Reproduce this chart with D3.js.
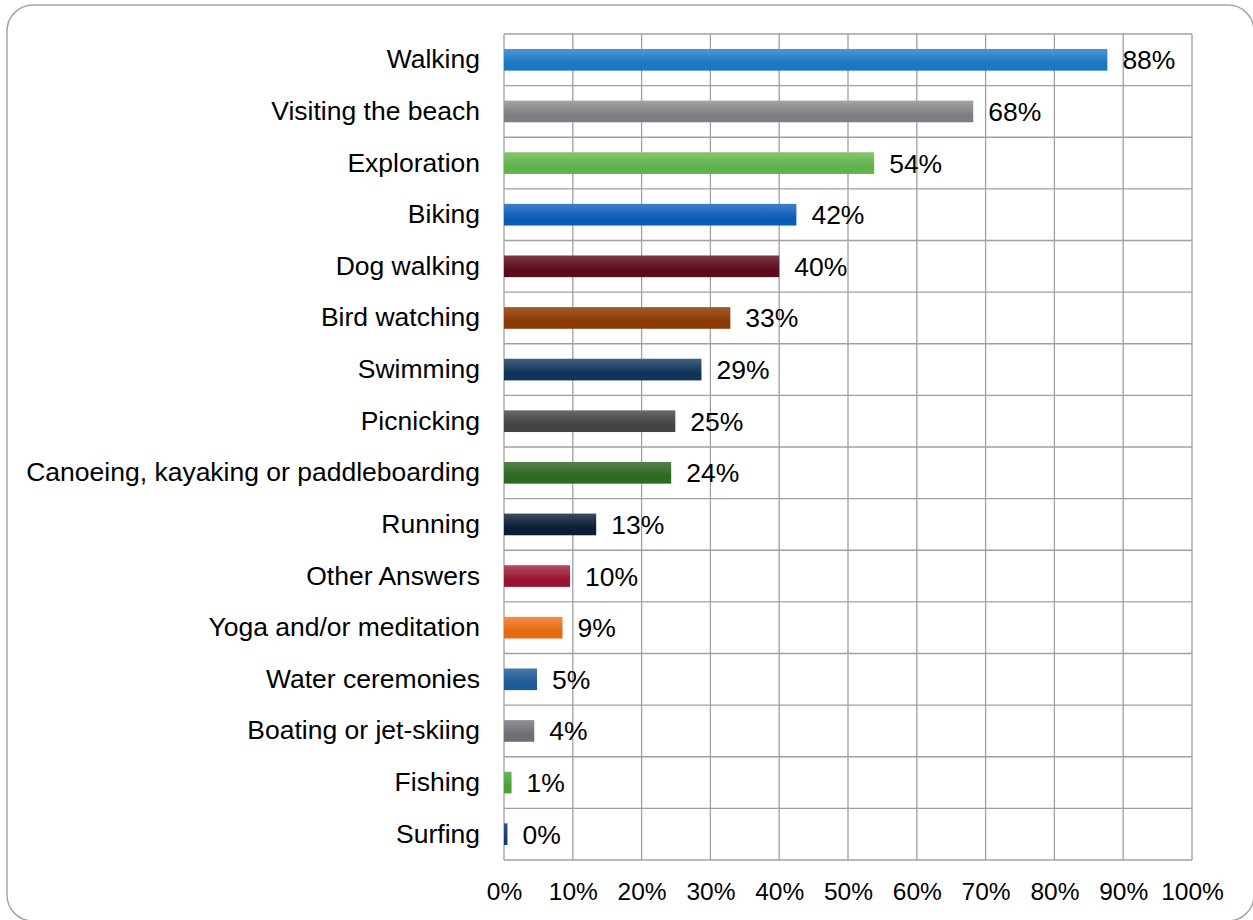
<!DOCTYPE html>
<html>
<head>
<meta charset="utf-8">
<script src="https://cdn.jsdelivr.net/npm/d3@7"></script>
<style>
  html, body { margin: 0; padding: 0; background: #fff; }
  svg { display: block; font-family: "Liberation Sans", Arial, sans-serif; }
</style>
</head>
<body>
<svg id="chart" width="1253" height="920"></svg>
<script>
const categories = [
  "Walking", "Visiting the beach", "Exploration", "Biking", "Dog walking",
  "Bird watching", "Swimming", "Picnicking", "Canoeing, kayaking or paddleboarding",
  "Running", "Other Answers", "Yoga and/or meditation", "Water ceremonies",
  "Boating or jet-skiing", "Fishing", "Surfing"
];
const values = [87.7, 68.2, 53.8, 42.5, 40.0, 32.9, 28.7, 24.9, 24.3, 13.4, 9.6, 8.5, 4.8, 4.4, 1.1, 0.5];
const valueLabels = ["88%", "68%", "54%", "42%", "40%", "33%", "29%", "25%", "24%", "13%", "10%", "9%", "5%", "4%", "1%", "0%"];
const tickValues = [0, 10, 20, 30, 40, 50, 60, 70, 80, 90, 100];
const tickLabels = ["0%", "10%", "20%", "30%", "40%", "50%", "60%", "70%", "80%", "90%", "100%"];
const colorsTop = ["#4f95d8", "#a3a5a8", "#86c872", "#3f7fcc", "#7e3a48", "#a25a2e", "#45607e", "#686868", "#55804a", "#3c4a60", "#b44e5e", "#f28c4c", "#4b78a8", "#8f9196", "#6cb858", "#2b5286"];
const colorsBottom = ["#1a78c2", "#7b7e82", "#5fb24c", "#0c5cb6", "#5b0c1c", "#8a3a04", "#0f3559", "#434343", "#2e6922", "#0b1d38", "#9a1532", "#e86a10", "#1f5b97", "#6c6f73", "#4ba03a", "#143e74"];

const svg = d3.select("#chart");

// outer rounded frame
svg.append("rect")
  .attr("x", 7).attr("y", 5).attr("width", 1247).attr("height", 916)
  .attr("rx", 26).attr("ry", 26)
  .attr("fill", "#fff").attr("stroke", "#a6a6a6").attr("stroke-width", 1.5);

const margin = { left: 504, right: 1192, top: 34, bottom: 860 };
const x = d3.scaleLinear().domain([0, 100]).range([margin.left, margin.right]);
const y = d3.scaleBand().domain(categories).range([margin.top, margin.bottom]).paddingInner(0).paddingOuter(0);

const defs = svg.append("defs");
categories.forEach((c, i) => {
  const g = defs.append("linearGradient").attr("id", "g" + i)
    .attr("x1", 0).attr("y1", 0).attr("x2", 0).attr("y2", 1);
  g.append("stop").attr("offset", "0%").attr("stop-color", colorsTop[i]);
  g.append("stop").attr("offset", "65%").attr("stop-color", colorsBottom[i]);
  g.append("stop").attr("offset", "100%").attr("stop-color", colorsBottom[i]);
});

const grid = svg.append("g").attr("class", "grid");
grid.selectAll("line.v").data(tickValues).enter().append("line")
  .attr("class", "v")
  .attr("x1", d => x(d)).attr("x2", d => x(d))
  .attr("y1", margin.top).attr("y2", margin.bottom)
  .attr("stroke", "#a0a0a0").attr("stroke-width", 1.3);
const bounds = categories.map(c => y(c)).concat([margin.bottom]);
grid.selectAll("line.h").data(bounds).enter().append("line")
  .attr("class", "h")
  .attr("x1", margin.left).attr("x2", margin.right)
  .attr("y1", d => d).attr("y2", d => d)
  .attr("stroke", "#a0a0a0").attr("stroke-width", 1.3);

const barH = y.bandwidth() * 0.42;
svg.append("g").selectAll("rect").data(categories).enter().append("rect")
  .attr("x", x(0))
  .attr("y", c => y(c) + (y.bandwidth() - barH) / 2)
  .attr("width", (c, i) => x(values[i]) - x(0))
  .attr("height", barH)
  .attr("fill", (c, i) => `url(#g${i})`);

// value labels
svg.append("g").selectAll("text").data(categories).enter().append("text")
  .attr("x", (c, i) => x(values[i]) + 15)
  .attr("y", c => y(c) + y.bandwidth() / 2)
  .attr("dy", "0.36em")
  .attr("font-size", 26.5)
  .attr("fill", "#000")
  .text((c, i) => valueLabels[i]);

// category labels (axis)
const yAxis = d3.axisLeft(y).tickSize(0).tickPadding(24);
const ya = svg.append("g").attr("transform", `translate(${margin.left},0)`).call(yAxis);
ya.select(".domain").remove();
ya.selectAll("text").attr("font-size", 26.5).attr("fill", "#000")
  .attr("font-family", "Liberation Sans, Arial, sans-serif");

// x axis
const xAxis = d3.axisBottom(x).tickValues(tickValues).tickSize(0).tickPadding(23)
  .tickFormat((d, i) => tickLabels[i]);
const xa = svg.append("g").attr("transform", `translate(0,${margin.bottom})`).call(xAxis);
xa.select(".domain").remove();
xa.selectAll("text").attr("font-size", 24.5).attr("fill", "#000")
  .attr("font-family", "Liberation Sans, Arial, sans-serif");
</script>
</body>
</html>
